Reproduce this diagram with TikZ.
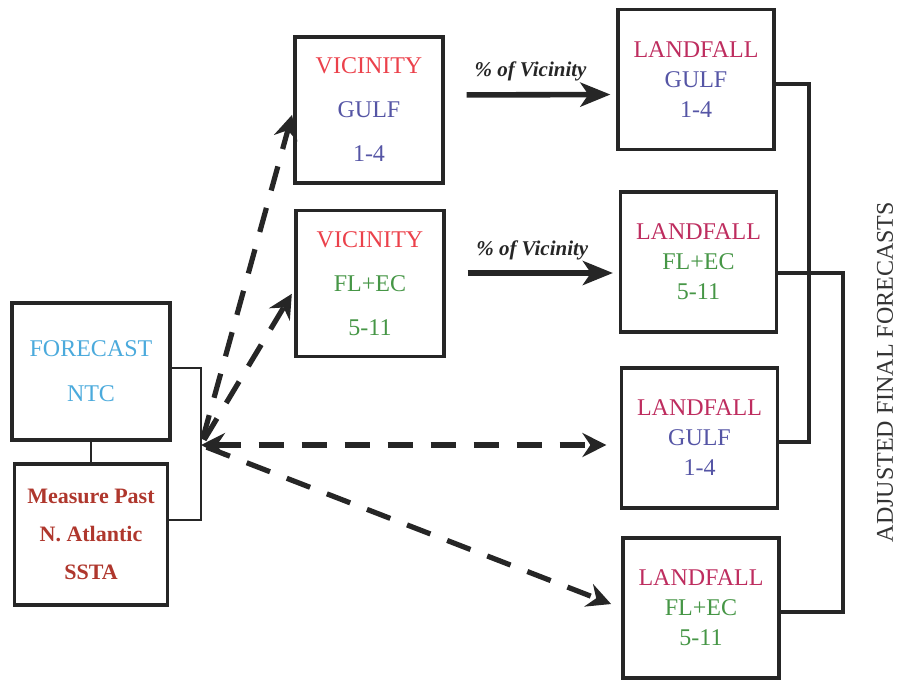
\documentclass[tikz,border=0pt]{standalone}
\usepackage{fontspec}
\setmainfont{Liberation Serif}
\usetikzlibrary{shapes, arrows.meta, positioning}

\definecolor{ntcblue}{RGB}{75,170,220}
\definecolor{pastred}{RGB}{175,55,45}
\definecolor{vicred}{RGB}{235,65,75}
\definecolor{gulfblue}{RGB}{85,85,165}
\definecolor{ecgreen}{RGB}{70,150,70}
\definecolor{landred}{RGB}{190,45,95}

\begin{document}
\begin{tikzpicture}[x=1pt, y=1pt, node distance=88pt, auto]
% Node styles
\tikzstyle{box} = [rectangle, minimum width=78pt, minimum height=70pt, text centered, align=center, draw=black!85, line width=1.6pt, inner sep=0pt, font=\fontsize{12}{14}\selectfont]
\tikzstyle{vbox} = [box, minimum width=74pt, minimum height=73pt]
\tikzstyle{arrow} = [line width=2.8pt, draw=black!85, ->, >={Stealth[length=15pt, width=12pt, inset=4pt]}]
\tikzstyle{dasharrow} = [line width=2.6pt, draw=black!85, ->, >={Stealth[length=12pt, width=12pt, inset=4pt]}, dash pattern=on 12.5pt off 9pt]
\tikzstyle{link} = [line width=1.3pt, draw=black!85]
\tikzstyle{lbl} = [font=\fontsize{10.5}{12}\selectfont\bfseries\itshape, text=black!85]

\useasboundingbox (0,0) rectangle (449.5,-343.5);

% Nodes
\node [box, minimum width=79pt, minimum height=68.5pt] (forecast) at (45.5,-185.75) {\textcolor{ntcblue}{FORECAST}\\[8.5pt]\textcolor{ntcblue}{NTC}};
\node [box, below of=forecast, yshift=6.5pt, minimum width=76.5pt, minimum height=70.5pt, font=\fontsize{11}{13}\selectfont\bfseries] (measure) {\textcolor{pastred}{Measure Past}\\[6pt]\textcolor{pastred}{N. Atlantic}\\[6pt]\textcolor{pastred}{SSTA}};
\coordinate (hub) at (100.5,-222.5);

\node [vbox] (vgulf) at (184.5,-55) {\textcolor{vicred}{VICINITY}\\[8pt]\textcolor{gulfblue}{GULF}\\[8pt]\textcolor{gulfblue}{1-4}};
\node [vbox, below of=vgulf, yshift=1.25pt, xshift=0.5pt] (vfl) {\textcolor{vicred}{VICINITY}\\[8pt]\textcolor{ecgreen}{FL+EC}\\[8pt]\textcolor{ecgreen}{5-11}};

\node [box] (lgulf1) at (348,-39.75) {\textcolor{landred}{LANDFALL}\\[1pt]\textcolor{gulfblue}{GULF}\\[1pt]\textcolor{gulfblue}{1-4}};
\node [box, below of=lgulf1, yshift=-3.25pt, xshift=1.25pt] (lfl1) {\textcolor{landred}{LANDFALL}\\[1pt]\textcolor{ecgreen}{FL+EC}\\[1pt]\textcolor{ecgreen}{5-11}};
\node [box, below of=lfl1, xshift=0.5pt] (lgulf2) {\textcolor{landred}{LANDFALL}\\[1pt]\textcolor{gulfblue}{GULF}\\[1pt]\textcolor{gulfblue}{1-4}};
\node [box, below of=lgulf2, yshift=3pt, xshift=0.75pt] (lfl2) {\textcolor{landred}{LANDFALL}\\[1pt]\textcolor{ecgreen}{FL+EC}\\[1pt]\textcolor{ecgreen}{5-11}};

\node [rotate=90, font=\fontsize{12}{14}\selectfont, text=black!80] (adjusted) at (442.5,-186) {ADJUSTED FINAL FORECASTS};

% Arrows
\draw [link] (forecast) -- (measure);
\draw [link] ([yshift=1.75pt]forecast.east) -| (hub) |- ([yshift=7.25pt]measure.east);

\draw [dasharrow, shorten <=3pt, shorten >=2.5pt] (hub) -- (vgulf.west);
\draw [dasharrow, shorten <=3pt, shorten >=2.5pt] (hub) -- ([yshift=-3pt]vfl.west);
\draw [dasharrow, <->, shorten >=6.75pt] (hub) -- ([yshift=-3.5pt]lgulf2.west);
\draw [dasharrow, shorten <=3pt, shorten >=5.5pt] (hub) -- (lfl2.west);

\draw [arrow, shorten <=11pt, shorten >=3pt] ([yshift=7.5pt]vgulf.east) -- node [lbl, above=2pt] {\% of Vicinity} ([yshift=-7.5pt]lgulf1.west);
\draw [arrow, shorten <=11pt, shorten >=3pt] ([yshift=5.25pt]vfl.east) -- node [lbl, above=2pt] {\% of Vicinity} ([yshift=-5.5pt]lfl1.west);

\draw [link, line width=2pt] ([yshift=-2.25pt]lgulf1.east) -- ++(16.5,0) |- ([yshift=-2pt]lgulf2.east);
\draw [link, line width=2pt] ([yshift=-5.5pt]lfl1.east) -- ++(32.5,0) |- ([yshift=-2pt]lfl2.east);
\end{tikzpicture}
\end{document}
